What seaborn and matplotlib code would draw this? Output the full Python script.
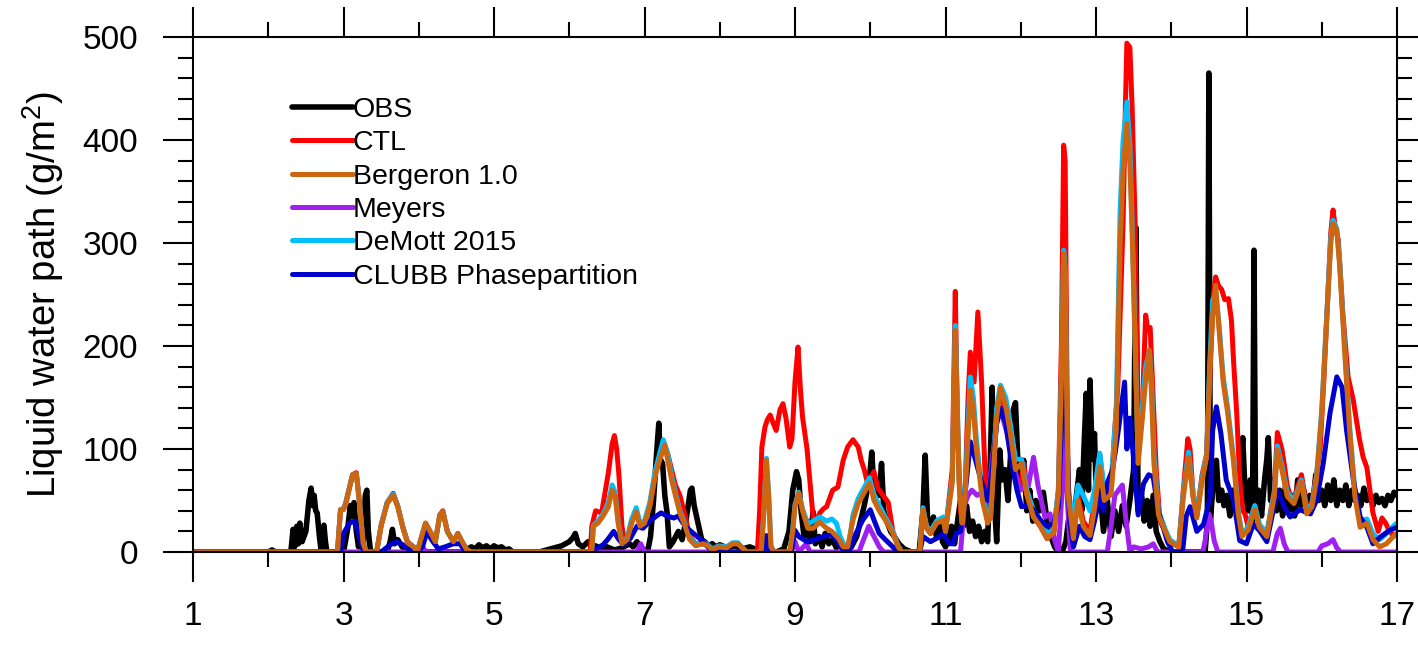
import matplotlib
matplotlib.use('Agg')
import matplotlib.pyplot as plt
import seaborn as sns
import pandas as pd

# Dados (dia, LWP em g/m2)
obs_t = [1.0, 2.0, 2.05, 2.1, 2.3, 2.33, 2.35, 2.38, 2.4, 2.42, 2.45, 2.5, 2.54, 2.57, 2.59, 2.61, 2.63, 2.65, 2.68, 2.7, 2.72, 2.74, 2.76, 2.78,
         3.0, 3.03, 3.06, 3.09, 3.11, 3.14, 3.17, 3.2, 3.23, 3.26, 3.29, 3.31, 3.33, 3.36,
         3.58, 3.62, 3.65, 3.68, 3.72, 3.78, 3.85, 3.9,
         4.6, 4.65, 4.7, 4.75, 4.8, 4.85, 4.9, 4.95, 5.0, 5.05, 5.1, 5.15, 5.2, 5.25,
         5.6, 5.7, 5.8, 5.9, 5.95, 6.0, 6.05, 6.08, 6.12, 6.18, 6.25, 6.3, 6.35, 6.42, 6.5, 6.6, 6.7, 6.8, 6.85, 6.9, 6.95, 7.0,
         7.04, 7.08, 7.12, 7.16, 7.19, 7.21, 7.24, 7.27, 7.3, 7.33, 7.38, 7.45, 7.5, 7.55, 7.58, 7.61, 7.63, 7.66, 7.69, 7.72, 7.76,
         7.8, 7.85, 7.9, 7.95, 8.0, 8.1, 8.2, 8.3, 8.4, 8.5, 8.6, 8.75,
         8.85, 8.92, 8.97, 9.02, 9.05, 9.08, 9.12, 9.16, 9.2, 9.24, 9.27, 9.32, 9.36, 9.4, 9.45, 9.5, 9.55, 9.6, 9.65, 9.75, 9.82,
         9.87, 9.92, 9.96, 10.0, 10.02, 10.05, 10.08, 10.12, 10.15, 10.18, 10.22, 10.27, 10.32, 10.38, 10.45, 10.55, 10.65,
         10.7, 10.73, 10.76, 10.8, 10.84, 10.88, 10.92, 10.96, 11.0, 11.04, 11.08, 11.12, 11.17, 11.2, 11.24, 11.28, 11.32, 11.36,
         11.4, 11.44, 11.48, 11.52, 11.56, 11.6, 11.62, 11.64, 11.68, 11.72, 11.75, 11.79, 11.83, 11.87, 11.9, 11.93, 11.96, 12.0,
         12.04, 12.08, 12.12, 12.16, 12.2, 12.25, 12.3, 12.35, 12.4, 12.45, 12.5, 12.55, 12.6, 12.65, 12.7, 12.74, 12.78, 12.81,
         12.84, 12.87, 12.9, 12.92, 12.95, 12.98, 13.01, 13.05, 13.1, 13.15, 13.2, 13.25, 13.3, 13.35, 13.4, 13.45, 13.5, 13.53,
         13.56, 13.6, 13.64, 13.68, 13.72, 13.76, 13.8, 13.85, 13.9, 14.0, 14.45,
         14.48, 14.5, 14.52, 14.56, 14.6, 14.63, 14.67, 14.7, 14.74, 14.78, 14.82, 14.86, 14.9, 14.93, 14.95, 14.98, 15.02, 15.05,
         15.08, 15.1, 15.12, 15.16, 15.2, 15.24, 15.27, 15.29, 15.32, 15.36, 15.4, 15.44, 15.48, 15.52, 15.56, 15.6, 15.64, 15.68,
         15.72, 15.76, 15.8, 15.84, 15.88, 15.92, 15.96, 16.0, 16.04, 16.08, 16.12, 16.16, 16.2, 16.24, 16.28, 16.32, 16.36, 16.4,
         16.44, 16.48, 16.52, 16.56, 16.6, 16.64, 16.68, 16.72, 16.76, 16.8, 16.84, 16.88, 16.92, 16.96, 17.0]
obs_v = [0, 0, 2, 0, 0, 22, 5, 25, 8, 28, 10, 20, 50, 62, 45, 55, 40, 38, 15, 3, 20, 26, 10, 0,
         0, 12, 25, 45, 35, 48, 20, 5, 30, 0, 55, 60, 20, 0,
         0, 10, 22, 8, 12, 5, 2, 0,
         0, 3, 5, 3, 7, 4, 6, 3, 6, 4, 5, 2, 3, 0,
         0, 2, 4, 6, 8, 10, 14, 18, 8, 5, 10, 4, 6, 3, 5, 2, 4, 8, 5, 10, 4, 2,
         0, 15, 50, 95, 125, 90, 86, 55, 38, 5, 10, 20, 12, 30, 45, 60, 62, 45, 35, 25, 12,
         10, 6, 8, 5, 7, 4, 6, 3, 5, 2, 0, 0,
         3, 20, 60, 78, 70, 40, 15, 30, 10, 39, 8, 15, 5, 18, 8, 12, 4, 8, 2, 5, 15,
         30, 45, 60, 80, 97, 60, 70, 55, 86, 40, 30, 20, 15, 8, 3, 0, 0,
         40, 94, 35, 20, 34, 15, 30, 10, 5, 12, 25, 8, 35, 50, 25, 45, 20, 30,
         15, 25, 10, 20, 10, 100, 160, 60, 10, 99, 70, 80, 50, 100, 138, 145, 90, 70,
         89, 40, 60, 30, 50, 40, 58, 30, 15, 5, 0, 0, 10, 40, 20, 55, 80, 40,
         100, 154, 60, 167, 90, 115, 40, 60, 20, 50, 15, 40, 20, 45, 25, 50, 80, 315,
         40, 60, 30, 50, 25, 55, 20, 10, 3, 0, 0,
         30, 465, 30, 70, 89, 50, 60, 45, 55, 35, 60, 40, 70, 90, 111, 60, 40, 70,
         30, 293, 40, 60, 35, 70, 90, 111, 50, 70, 40, 60, 35, 65, 40, 55, 35, 70,
         45, 60, 40, 55, 45, 75, 50, 60, 45, 65, 50, 70, 45, 60, 50, 65, 45, 60,
         50, 55, 45, 62, 50, 55, 45, 55, 48, 52, 45, 55, 50, 58, 55]

ctl_t = [1.0, 2.92, 2.96, 3.0, 3.03, 3.12, 3.17, 3.21, 3.26, 3.3, 3.44, 3.5, 3.58, 3.66, 3.72, 3.79, 3.85, 3.93, 3.98,
         4.05, 4.09, 4.15, 4.22, 4.28, 4.32, 4.38, 4.46, 4.52, 4.56, 4.64, 4.7,
         6.28, 6.3, 6.35, 6.43, 6.52, 6.57, 6.6, 6.63, 6.66, 6.7, 6.74, 6.77, 6.83, 6.89, 6.94, 7.0, 7.07, 7.14, 7.2, 7.27,
         7.31, 7.36, 7.41, 7.47, 7.54, 7.6, 7.68, 7.78, 7.84, 7.9, 7.99, 8.09, 8.17, 8.24, 8.3, 8.36, 8.5,
         8.53, 8.56, 8.6, 8.63, 8.67, 8.71, 8.75, 8.8, 8.84, 8.88, 8.93, 8.96, 9.0, 9.04, 9.07, 9.1, 9.16, 9.2, 9.24, 9.28,
         9.33, 9.38, 9.42, 9.46, 9.5, 9.57, 9.64, 9.7, 9.77, 9.84, 9.88, 9.92, 9.96, 10.0, 10.05, 10.1, 10.17, 10.24, 10.3,
         10.37, 10.42, 10.66, 10.7, 10.75, 10.8, 10.88, 10.97, 11.0, 11.09, 11.13, 11.16, 11.2, 11.22, 11.26, 11.3, 11.33,
         11.38, 11.43, 11.48, 11.53, 11.56, 11.6, 11.68, 11.73, 11.8, 11.86, 11.93, 11.99, 12.04, 12.08, 12.17, 12.26, 12.35,
         12.44, 12.5, 12.54, 12.57, 12.59, 12.61, 12.63, 12.7, 12.76, 12.83, 12.92, 12.98, 13.05, 13.11, 13.2, 13.25, 13.29,
         13.33, 13.36, 13.39, 13.41, 13.45, 13.48, 13.52, 13.56, 13.61, 13.66, 13.69, 13.72, 13.76, 13.8, 13.85, 13.92, 13.98,
         14.1, 14.16, 14.22, 14.25, 14.29, 14.34, 14.41, 14.47, 14.52, 14.56, 14.59, 14.63, 14.67, 14.71, 14.76, 14.8, 14.83,
         14.87, 14.91, 14.95, 14.98, 15.02, 15.11, 15.17, 15.27, 15.37, 15.41, 15.47, 15.5, 15.54, 15.58, 15.63, 15.73, 15.8,
         15.85, 15.93, 15.98, 16.03, 16.07, 16.12, 16.15, 16.18, 16.22, 16.28, 16.35, 16.42, 16.5, 16.55, 16.6, 16.64, 16.68,
         16.75, 16.8, 16.85, 16.9, 16.95, 17.0]
ctl_v = [0, 0, 41, 42, 48, 75, 77, 50, 9, 0, 0, 26, 48, 57, 45, 24, 10, 5, 0,
         18, 28, 20, 10, 36, 40, 20, 10, 18, 12, 2, 0,
         0, 25, 40, 38, 77, 105, 113, 100, 75, 25, 8, 12, 30, 40, 26, 28, 45, 75, 92, 103,
         95, 80, 65, 55, 35, 15, 8, 8, 6, 2, 5, 4, 8, 8, 4, 0, 0,
         40, 102, 121, 128, 133, 125, 118, 138, 144, 130, 102, 110, 165, 199, 160, 131, 100, 67, 34, 30,
         38, 42, 44, 52, 60, 63, 89, 102, 109, 102, 89, 80, 68, 72, 78, 62, 55, 48, 20,
         6, 0, 0, 41, 23, 18, 28, 31, 20, 80, 253, 120, 40, 30, 60, 150, 194,
         165, 233, 165, 67, 30, 34, 131, 160, 134, 116, 70, 60, 86, 56, 34, 25, 13,
         19, 60, 200, 395, 380, 200, 60, 13, 55, 30, 20, 50, 95, 55, 60, 120, 161,
         250, 320, 430, 494, 490, 432, 319, 100, 130, 230, 215, 218, 150, 80, 30, 20, 10,
         5, 60, 110, 100, 55, 35, 75, 95, 180, 250, 267, 258, 255, 245, 246, 225, 183,
         135, 70, 40, 37, 25, 45, 26, 18, 60, 116, 100, 86, 65, 55, 52, 75, 45,
         40, 75, 102, 170, 232, 310, 332, 315, 303, 232, 170, 147, 110, 92, 82, 60, 38,
         20, 33, 28, 20, 16, 18]

berg_t = [1.0, 2.92, 2.96, 3.0, 3.03, 3.12, 3.17, 3.21, 3.26, 3.3, 3.44, 3.5, 3.58, 3.66, 3.72, 3.79, 3.85, 3.93, 3.98,
          4.05, 4.09, 4.15, 4.22, 4.28, 4.32, 4.38, 4.46, 4.52, 4.56, 4.64, 4.7,
          6.3, 6.32, 6.38, 6.45, 6.52, 6.57, 6.61, 6.65, 6.7, 6.77, 6.83, 6.89, 6.94, 7.0, 7.07, 7.14, 7.2, 7.27, 7.31, 7.36,
          7.41, 7.47, 7.54, 7.6, 7.68, 7.78, 7.84, 7.9, 7.99, 8.09, 8.17, 8.24, 8.3, 8.36, 8.55, 8.58, 8.62, 8.65, 8.68, 8.72,
          8.93, 8.97, 9.0, 9.05, 9.1, 9.17, 9.24, 9.33, 9.42, 9.49, 9.58, 9.64, 9.7, 9.77, 9.84, 9.9, 9.99, 10.05, 10.12, 10.2,
          10.3, 10.37, 10.42, 10.66, 10.7, 10.75, 10.8, 10.88, 10.97, 11.0, 11.09, 11.13, 11.16, 11.18, 11.22, 11.26, 11.33,
          11.37, 11.41, 11.49, 11.56, 11.6, 11.68, 11.73, 11.8, 11.86, 11.93, 12.01, 12.08, 12.17, 12.26, 12.35, 12.44, 12.5,
          12.54, 12.57, 12.59, 12.61, 12.63, 12.7, 12.76, 12.83, 12.92, 12.98, 13.05, 13.11, 13.2, 13.27, 13.32, 13.36, 13.41,
          13.45, 13.48, 13.52, 13.56, 13.61, 13.66, 13.71, 13.74, 13.77, 13.83, 13.92, 13.98, 14.1, 14.16, 14.23, 14.29, 14.34,
          14.41, 14.47, 14.51, 14.55, 14.59, 14.63, 14.69, 14.75, 14.83, 14.89, 14.94, 15.02, 15.11, 15.17, 15.27, 15.37, 15.41,
          15.47, 15.54, 15.63, 15.73, 15.8, 15.87, 15.93, 16.0, 16.07, 16.12, 16.15, 16.2, 16.24, 16.3, 16.37, 16.44, 16.51,
          16.6, 16.68, 16.77, 16.86, 16.95, 17.0]
berg_v = [0, 0, 41, 41, 46, 75, 76, 50, 9, 0, 0, 25, 47, 55, 44, 23, 9, 5, 0,
          18, 28, 20, 10, 36, 39, 20, 10, 18, 12, 2, 0,
          0, 25, 28, 35, 44, 60, 54, 28, 8, 12, 28, 39, 25, 28, 44, 73, 89, 104, 89, 70,
          55, 38, 25, 12, 6, 8, 6, 2, 5, 4, 8, 8, 4, 0, 0, 30, 89, 54, 5, 0,
          0, 20, 44, 57, 40, 23, 23, 29, 23, 20, 13, 5, 5, 31, 47, 55, 67, 50, 40, 31,
          18, 5, 0, 0, 41, 23, 18, 28, 31, 20, 67, 215, 130, 67, 28, 53, 157,
          139, 100, 50, 28, 34, 131, 160, 142, 116, 80, 86, 56, 34, 25, 13, 19, 56,
          165, 290, 270, 150, 56, 13, 50, 25, 16, 42, 83, 50, 56, 120, 300, 370, 416,
          377, 311, 199, 86, 125, 167, 196, 150, 86, 36, 20, 10, 5, 53, 92, 53, 33,
          69, 92, 174, 230, 259, 221, 165, 135, 86, 37, 15, 21, 41, 24, 15, 54, 99,
          80, 54, 47, 68, 37, 44, 70, 135, 232, 300, 319, 312, 276, 200, 118, 54, 24,
          28, 12, 5, 8, 15, 18]

demott_t = [1.0, 2.92, 2.96, 3.0, 3.03, 3.12, 3.17, 3.21, 3.26, 3.3, 3.44, 3.5, 3.58, 3.66, 3.72, 3.79, 3.85, 3.93, 3.98,
            4.05, 4.09, 4.15, 4.22, 4.28, 4.32, 4.38, 4.46, 4.52, 4.56, 4.64, 4.7,
            6.3, 6.32, 6.38, 6.45, 6.52, 6.57, 6.61, 6.65, 6.7, 6.77, 6.83, 6.89, 6.94, 7.0, 7.07, 7.14, 7.2, 7.25, 7.31, 7.36,
            7.41, 7.47, 7.54, 7.6, 7.68, 7.78, 7.84, 7.9, 7.99, 8.09, 8.17, 8.24, 8.3, 8.36, 8.55, 8.58, 8.62, 8.65, 8.68, 8.72,
            8.93, 8.97, 9.0, 9.05, 9.1, 9.17, 9.24, 9.33, 9.42, 9.49, 9.55, 9.6, 9.66, 9.72, 9.77, 9.84, 9.9, 9.99, 10.05, 10.12,
            10.2, 10.3, 10.37, 10.42, 10.66, 10.7, 10.75, 10.8, 10.88, 10.97, 11.0, 11.09, 11.13, 11.16, 11.18, 11.22, 11.26,
            11.33, 11.37, 11.41, 11.49, 11.56, 11.6, 11.68, 11.73, 11.8, 11.86, 11.93, 12.01, 12.08, 12.17, 12.26, 12.35, 12.44,
            12.5, 12.54, 12.57, 12.59, 12.61, 12.63, 12.7, 12.76, 12.83, 12.92, 12.98, 13.05, 13.11, 13.2, 13.27, 13.32, 13.36,
            13.41, 13.45, 13.48, 13.52, 13.56, 13.61, 13.66, 13.71, 13.74, 13.77, 13.83, 13.92, 13.98, 14.1, 14.16, 14.23, 14.29,
            14.34, 14.41, 14.47, 14.51, 14.55, 14.59, 14.63, 14.69, 14.75, 14.83, 14.89, 14.94, 15.02, 15.11, 15.17, 15.27,
            15.37, 15.41, 15.47, 15.54, 15.63, 15.73, 15.8, 15.87, 15.93, 16.0, 16.07, 16.12, 16.15, 16.2, 16.24, 16.3, 16.37,
            16.44, 16.51, 16.6, 16.68, 16.77, 16.86, 16.95, 17.0]
demott_v = [0, 0, 41, 42, 47, 75, 76, 50, 9, 0, 0, 26, 48, 56, 45, 24, 10, 5, 0,
            18, 28, 20, 10, 36, 39, 20, 10, 18, 12, 2, 0,
            0, 26, 30, 37, 48, 65, 58, 30, 9, 14, 32, 43, 28, 30, 48, 78, 95, 109, 95, 74,
            58, 40, 27, 14, 7, 10, 7, 3, 6, 5, 9, 9, 4, 0, 0, 32, 91, 56, 6, 0,
            0, 22, 46, 58, 42, 27, 30, 34, 30, 32, 28, 15, 6, 8, 36, 52, 60, 72, 56, 45,
            34, 20, 6, 0, 0, 43, 25, 20, 30, 34, 22, 72, 220, 135, 72, 35, 60,
            170, 150, 110, 55, 32, 40, 140, 162, 150, 125, 90, 90, 60, 40, 30, 18, 22,
            60, 170, 293, 275, 155, 60, 30, 65, 55, 40, 60, 96, 60, 65, 140, 330, 400,
            437, 395, 320, 205, 90, 135, 180, 195, 160, 95, 40, 22, 12, 6, 58, 97, 58,
            36, 72, 95, 180, 245, 250, 225, 170, 140, 90, 40, 18, 24, 45, 27, 18,
            58, 103, 84, 58, 50, 70, 40, 47, 73, 138, 236, 305, 322, 314, 280, 205, 122,
            60, 30, 32, 18, 12, 18, 25, 28]

meyers_t = [1.0, 4.0, 4.05, 4.1, 6.9, 6.95, 7.0, 8.95, 9.0, 9.05, 9.15, 9.2, 9.85, 9.9, 9.98, 10.05, 10.12, 10.18,
            11.2, 11.25, 11.3, 11.35, 11.42, 11.5, 11.56, 11.62, 11.68, 11.73, 11.82, 11.9, 11.99, 12.1, 12.17, 12.23,
            12.32, 12.39, 12.45, 12.5, 12.55, 12.59, 12.62, 12.66, 13.15, 13.2, 13.25, 13.3, 13.35, 13.4, 13.45, 13.5,
            13.6, 13.7, 13.76, 13.82, 14.42, 14.45, 14.5, 14.53, 14.57, 14.62, 15.35, 15.41, 15.45, 15.5, 15.55,
            15.95, 16.0, 16.08, 16.15, 16.2, 16.25, 17.0]
meyers_v = [0, 0, 5, 0, 0, 8, 0, 0, 10, 0, 8, 0, 0, 10, 25, 15, 5, 0,
            0, 45, 55, 60, 55, 58, 50, 90, 125, 138, 115, 86, 60, 64, 92, 64,
            34, 37, 12, 0, 60, 125, 50, 0, 0, 25, 55, 60, 65, 30, 0, 5,
            3, 5, 8, 0, 0, 11, 37, 30, 11, 0, 0, 18, 23, 8, 0,
            0, 6, 8, 12, 4, 0, 0]

clubb_t = [1.0, 2.96, 3.0, 3.08, 3.15, 3.19, 3.24, 3.28, 3.5, 3.62, 3.71, 3.79, 3.88, 3.95, 4.05, 4.11, 4.17, 4.26, 4.35,
           4.46, 4.55, 4.62,
           6.3, 6.32, 6.45, 6.52, 6.59, 6.65, 6.72, 6.81, 6.9, 6.98, 7.07, 7.16, 7.22, 7.3, 7.39, 7.45, 7.54, 7.65, 7.75,
           7.84, 7.92, 8.58, 8.62, 8.66, 8.95, 9.0, 9.05, 9.16, 9.27, 9.38, 9.5, 9.56, 9.64, 9.73, 9.81, 9.9, 10.0, 10.05,
           10.12, 10.2, 10.3, 10.36, 10.66, 10.7, 10.8, 10.9, 10.97, 11.05, 11.1, 11.14, 11.2, 11.28, 11.33, 11.4, 11.46,
           11.56, 11.62, 11.68, 11.73, 11.8, 11.87, 11.95, 12.01, 12.1, 12.17, 12.26, 12.35, 12.44, 12.5, 12.55, 12.58,
           12.61, 12.65, 12.7, 12.78, 12.85, 12.92, 12.98, 13.05, 13.1, 13.15, 13.22, 13.26, 13.3, 13.35, 13.38, 13.41,
           13.45, 13.5, 13.56, 13.63, 13.7, 13.76, 13.83, 13.95, 14.02, 14.15, 14.2, 14.25, 14.34, 14.43, 14.52, 14.55,
           14.6, 14.66, 14.73, 14.83, 14.91, 15.0, 15.09, 15.17, 15.27, 15.41, 15.5, 15.58, 15.71, 15.85, 15.93, 16.02,
           16.11, 16.2, 16.27, 16.33, 16.42, 16.51, 16.6, 16.68, 16.77, 16.9, 17.0]
clubb_v = [0, 0, 18, 28, 30, 20, 7, 0, 0, 7, 10, 7, 2, 0, 5, 20, 12, 3, 5,
           8, 8, 0,
           0, 2, 7, 13, 20, 13, 7, 13, 25, 23, 30, 35, 38, 35, 33, 35, 25, 18, 12,
           5, 0, 0, 16, 0, 0, 21, 15, 10, 12, 15, 17, 10, 2, 3, 18, 31, 41, 31,
           18, 12, 5, 0, 0, 15, 10, 14, 18, 8, 8, 18, 20, 70, 107, 89, 73,
           50, 80, 125, 140, 125, 90, 60, 44, 45, 41, 31, 25, 28, 45, 140, 206,
           120, 30, 5, 25, 15, 12, 30, 55, 40, 67, 80, 99, 120, 148, 165, 100,
           130, 90, 36, 66, 75, 73, 39, 10, 0, 0, 35, 44, 20, 27, 54, 118,
           141, 115, 70, 50, 11, 8, 27, 21, 10, 60, 44, 34, 41, 37, 50, 86,
           135, 170, 160, 118, 70, 34, 24, 8, 14, 21, 24]

series = [
    ('OBS', obs_t, obs_v, 'black', 4.0),
    ('CTL', ctl_t, ctl_v, '#ff0000', 3.6),
    ('Meyers', meyers_t, meyers_v, '#a020f0', 3.6),
    ('DeMott 2015', demott_t, demott_v, '#00bfff', 3.6),
    ('CLUBB Phasepartition', clubb_t, clubb_v, '#0000cd', 3.6),
    ('Bergeron 1.0', berg_t, berg_v, '#cc6611', 3.6),
]
legend_order = ['OBS', 'CTL', 'Bergeron 1.0', 'Meyers', 'DeMott 2015', 'CLUBB Phasepartition']

sns.set_theme(style='ticks')
plt.rcParams['font.family'] = ['Liberation Sans', 'DejaVu Sans']
plt.rcParams['mathtext.fontset'] = 'custom'
plt.rcParams['mathtext.rm'] = 'Liberation Sans'
plt.rcParams['mathtext.it'] = 'Liberation Sans:italic'
plt.rcParams['text.color'] = 'black'
plt.rcParams['axes.labelcolor'] = 'black'

fig = plt.figure(figsize=(14.18, 6.45), dpi=100)
ax = fig.add_axes([193 / 1418, 1 - 552 / 645, 1204 / 1418, 515 / 645])

for nome, t, v, cor, lw in series:
    df = pd.DataFrame({'dia': t, 'lwp': v})
    sns.lineplot(data=df, x='dia', y='lwp', ax=ax, color=cor, linewidth=lw,
                 label=nome, estimator=None, sort=False)

ax.set_xlim(1, 17)
ax.set_ylim(0, 500)
ax.set_xticks(range(1, 18, 2))
ax.set_xticks(range(1, 18), minor=True)
ax.set_yticks(range(0, 501, 100))
ax.set_yticks(range(0, 501, 20), minor=True)
ax.tick_params(which='major', direction='out', length=21.6, width=1.5, top=True, right=True,
               labelsize=24, color='black', labelcolor='black')
ax.tick_params(axis='y', which='major', pad=18)
ax.tick_params(axis='x', which='major', pad=14)
ax.tick_params(which='minor', direction='out', length=10.8, width=1.5, top=True, right=True, color='black')
for s in ax.spines.values():
    s.set_linewidth(1.5)
    s.set_color('black')

ax.set_xlabel('')
ax.set_ylabel('Liquid water path (g/m$^2$)', fontsize=27.5, labelpad=12, color='black')

handles, labels = ax.get_legend_handles_labels()
mapa = dict(zip(labels, handles))
leg = ax.legend([mapa[k] for k in legend_order], legend_order, loc='upper left',
                bbox_to_anchor=(0.0822, 0.884), frameon=False, fontsize=20.5, borderpad=0,
                handlelength=2.14, handletextpad=0, labelspacing=0.26, borderaxespad=0)
for txt in leg.get_texts():
    txt.set_color('black')

plt.savefig('out.png', dpi=100)
